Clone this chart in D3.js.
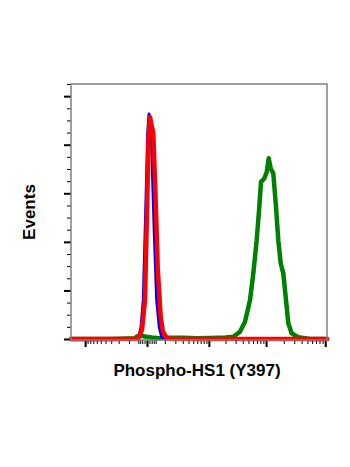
<html>
<head>
<meta charset="utf-8">
<style>
  body { margin: 0; background: #fff; }
  svg { display: block; font-family: "Liberation Sans", Arial, sans-serif; }
</style>
</head>
<body>
<script src="https://cdn.jsdelivr.net/npm/d3@7"></script>
<script>
// fluorescence values (x) and events, % of max (y)
var blueX = [-1800, -53, -40, -26, -15.4, -3.9, 2.75, 8.06, 16.8, 22.8, 32.7, 45.6, 61.1, 76.8, 100.9, 107000];
var blueY = [0, 0, 0.2, 4.9, 16, 57.2, 84.8, 92.6, 90.1, 70.8, 43.6, 16, 4.9, 0.8, 0.1, 0];

var redX = [-1800, -41.7, -21.4, -8.06, 1.17, 5.99, 12.3, 19.0, 27.7, 40.1, 51.4, 70.0, 85.9, 114.6, 163.5, 107000];
var redY = [0, 0, 3.7, 16, 57.2, 81.9, 91.4, 88.1, 84.8, 57.2, 29.6, 9.1, 2.9, 0.4, 0, 0];

var greenX = [-1800, -300, -60, -45, -25, -10, 20, 60, 120, 300, 600, 1100, 2000, 2736, 3580, 4360, 5320, 6060, 6920,
              7670, 8200, 9330, 10260, 11090, 11990, 13260, 14740, 16130, 17710, 19600, 21780, 23810, 27180, 35130, 55390, 107000];
var greenY = [0, 0, 0.3, 1.2, 1.5, 1.0, 0.6, 0.3, 0.5, 0.5, 0.3, 0.4, 0.6, 0.95, 3.0, 7.1, 16.0, 27.0, 40.7,
              54.4, 64.7, 66.1, 68.8, 74.4, 70.2, 68.2, 54.4, 40.7, 31.2, 27.0, 16.0, 6.5, 2.3, 0.7, 0, 0];

// axis ticks (no labels on the original)
var xMajor = [-1000, 0, 1000, 10000, 100000];
var xMinor = [-900, -800, -700, -600, -500, -400, -300, -200, -100,
              -40, -30, -20, -10, 10, 20, 30, 40,
              100, 200, 300, 400, 500, 600, 700, 800, 900,
              2000, 3000, 4000, 5000, 6000, 7000, 8000, 9000,
              20000, 30000, 40000, 50000, 60000, 70000, 80000, 90000];
var yMajor = [0, 20, 40, 60, 80, 100];
var yMinor = [5, 10, 15, 25, 30, 35, 45, 50, 55, 65, 70, 75, 85, 90, 95, 105];

var W = 350, H = 467;
var pLeft = 71, pRight = 327, pTop = 84, pBottom = 340;

var svg = d3.select("body").append("svg")
    .attr("width", W)
    .attr("height", H);

// biexponential-like display scale
var x = d3.scaleSymlog()
    .constant(100)
    .domain([-1800, 107000])
    .range([pLeft, pRight]);

var y = d3.scaleLinear()
    .domain([0, 105])
    .range([pBottom - 1, pTop]);

// ticks
var xAxisMajor = d3.axisBottom(x).tickValues(xMajor).tickSize(7).tickFormat("");
var xAxisMinor = d3.axisBottom(x).tickValues(xMinor).tickSize(4).tickFormat("");
var yAxisMajor = d3.axisLeft(y).tickValues(yMajor).tickSize(7).tickFormat("");
var yAxisMinor = d3.axisLeft(y).tickValues(yMinor).tickSize(4).tickFormat("");

function styleAxis(g, w) {
    g.select(".domain").remove();
    g.selectAll("line").attr("stroke", "#000").attr("stroke-width", w);
}

svg.append("g").attr("transform", "translate(0," + pBottom + ")").call(xAxisMinor).call(styleAxis, 1);
svg.append("g").attr("transform", "translate(0," + pBottom + ")").call(xAxisMajor).call(styleAxis, 2);
svg.append("g").attr("transform", "translate(" + pLeft + ",0)").call(yAxisMinor).call(styleAxis, 1);
svg.append("g").attr("transform", "translate(" + pLeft + ",0)").call(yAxisMajor).call(styleAxis, 2);

// histograms
var line = d3.line()
    .x(function(d) { return x(d[0]); })
    .y(function(d) { return y(d[1]); });

var series = [
    { xs: greenX, ys: greenY, color: "#008000", width: 4.5 },
    { xs: blueX, ys: blueY, color: "#0000ff", width: 3 },
    { xs: redX, ys: redY, color: "#ff0000", width: 4.5 }
];

var plot = svg.append("g");
series.forEach(function(s) {
    var pts = s.xs.map(function(v, i) { return [v, s.ys[i]]; });
    plot.append("path")
        .datum(pts)
        .attr("d", line)
        .attr("fill", "none")
        .attr("stroke", s.color)
        .attr("stroke-width", s.width)
        .attr("stroke-linejoin", "round")
        .attr("stroke-linecap", "round");
});

// frame
svg.append("rect")
    .attr("x", pLeft)
    .attr("y", pTop)
    .attr("width", pRight - pLeft)
    .attr("height", pBottom - pTop)
    .attr("fill", "none")
    .attr("stroke", "#808080")
    .attr("stroke-width", 1.5);

// axis titles
svg.append("text")
    .attr("x", (pLeft + pRight) / 2 - 2)
    .attr("y", 376)
    .attr("text-anchor", "middle")
    .style("font-size", "17px")
    .style("font-weight", "bold")
    .text("Phospho-HS1 (Y397)");

svg.append("text")
    .attr("transform", "translate(35,212) rotate(-90)")
    .attr("text-anchor", "middle")
    .style("font-size", "17px")
    .style("font-weight", "bold")
    .text("Events");
</script>
</body>
</html>
